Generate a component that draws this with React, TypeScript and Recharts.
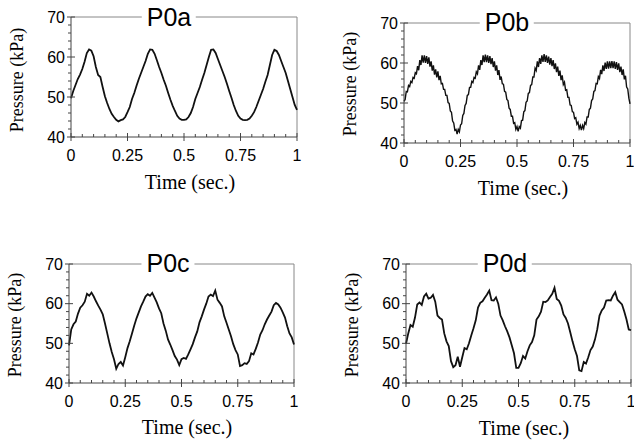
import React from "react";
import { LineChart, Line, XAxis, YAxis, ReferenceLine } from "recharts";

// ---- data (kPa), sampled every STEP seconds ----
const STEP_A = 0.01;
const P0A = [
  49.7, 51.5, 53.0, 54.5, 55.6, 57.0, 58.8, 61.0, 61.9, 61.6,
  60.2, 57.5, 55.5, 55.0, 52.5, 50.2, 48.5, 47.0, 45.8, 45.0,
  44.3, 43.9, 44.2, 44.4, 45.0, 46.2, 47.5, 49.5, 51.0, 52.8,
  54.5, 56.0, 57.5, 59.0, 60.8, 61.9, 61.8, 60.8, 59.2, 57.5,
  56.0, 54.3, 52.8, 51.0, 49.3, 47.8, 46.5, 45.3, 44.6, 44.3,
  44.3, 44.4, 45.0, 46.0, 47.5, 49.5, 51.0, 52.5, 54.3, 56.0,
  58.0, 60.0, 61.8, 61.9, 61.0, 59.5, 58.0, 56.5, 55.0, 53.3,
  51.5, 49.8, 48.0, 46.5, 45.3, 44.6, 44.3, 44.2, 44.3, 44.6,
  45.3, 46.2, 47.5, 49.0, 50.5, 52.0, 53.8, 55.5, 58.0, 60.5,
  61.8, 61.5, 60.5, 59.0, 57.5, 56.0, 54.0, 52.0, 50.0, 48.0,
  46.8,
];

const STEP_B = 0.005;
const P0B = [
  50.4, 50.9, 52.9, 52.8, 54.4, 54.1, 55.4, 55.1, 56.4, 56.2,
  57.6, 57.3, 59.2, 58.2, 60.7, 59.5, 61.9, 60.1, 61.9, 60.0,
  61.7, 59.8, 61.4, 59.1, 60.4, 58.1, 59.4, 57.1, 58.4, 56.4,
  57.9, 55.7, 56.8, 54.8, 54.9, 53.4, 53.4, 51.9, 51.9, 50.1,
  49.9, 48.0, 47.7, 45.5, 45.0, 43.2, 43.4, 42.2, 43.4, 42.8,
  44.5, 44.8, 46.9, 47.4, 49.4, 49.9, 51.9, 52.1, 53.9, 53.9,
  55.4, 55.1, 56.4, 56.2, 57.8, 57.3, 59.4, 58.3, 60.7, 59.5,
  61.9, 60.2, 62.1, 60.2, 61.9, 60.0, 61.7, 59.7, 61.2, 59.0,
  60.4, 58.1, 59.4, 57.0, 58.2, 55.8, 56.6, 54.8, 54.7, 52.9,
  52.7, 50.9, 50.6, 48.7, 48.4, 46.7, 46.7, 44.9, 45.1, 43.4,
  44.1, 42.9, 44.1, 43.7, 45.6, 45.7, 47.8, 48.1, 50.2, 50.5,
  52.4, 52.6, 54.4, 54.6, 56.5, 56.5, 58.7, 58.1, 60.4, 59.0,
  61.2, 59.8, 61.9, 60.3, 62.2, 60.3, 61.9, 60.0, 61.6, 59.6,
  61.2, 59.2, 60.7, 58.5, 59.9, 57.7, 59.1, 56.8, 58.1, 55.7,
  56.9, 54.6, 55.2, 53.2, 53.3, 51.4, 51.4, 49.5, 49.4, 47.8,
  47.7, 46.1, 46.3, 44.7, 45.2, 43.6, 44.4, 43.2, 44.4, 43.6,
  45.1, 44.7, 46.5, 46.5, 48.4, 48.7, 50.6, 51.0, 52.9, 53.1,
  54.9, 54.8, 56.6, 56.1, 58.3, 57.2, 59.4, 58.0, 60.1, 58.5,
  60.4, 58.6, 60.4, 58.7, 60.5, 58.7, 60.4, 58.5, 60.2, 58.3,
  59.9, 57.7, 59.1, 57.0, 58.4, 55.9, 56.8, 54.0, 53.5, 51.2,
  49.8,
];

const STEP_C = 0.01;
const P0C = [
  49.5, 53.5, 54.8, 55.5, 57.5, 59.0, 59.6, 60.5, 62.5, 62.0,
  62.8, 61.8, 60.6, 59.5, 58.5, 57.3, 55.0, 52.5, 50.0, 47.8,
  46.0, 43.6, 44.8, 45.3, 44.4, 46.5, 48.8, 50.5, 52.5, 54.5,
  56.3, 57.8, 59.3, 60.5, 61.8, 62.4, 62.0, 62.7, 61.5, 60.3,
  58.8, 57.6, 55.0, 53.2, 51.0, 49.7, 48.3, 46.8, 45.9, 44.5,
  46.0, 46.3, 46.1, 47.2, 48.5, 49.8, 51.5, 53.0, 55.3, 56.8,
  58.5, 60.0, 61.8, 62.3, 61.9, 63.3, 61.0, 60.2, 59.3, 56.8,
  55.2, 53.5, 51.8, 49.8, 48.3, 47.2, 44.3, 44.5, 45.0, 44.8,
  45.5, 47.5, 47.2, 48.6, 50.2, 52.2, 53.3, 54.8, 56.0, 57.0,
  58.0, 59.6, 60.2, 59.8, 59.0, 57.8, 56.5, 54.3, 52.5, 51.5,
  49.7,
];

const STEP_D = 0.01;
const P0D = [
  49.9, 52.5, 54.6, 54.2, 56.5, 59.8, 60.3, 59.7, 61.8, 62.5,
  61.3, 61.5, 62.2, 60.5, 57.0, 56.4, 56.0, 52.5, 50.5, 49.3,
  45.5, 44.0, 44.5, 46.6, 44.1, 46.5, 48.8, 48.5, 50.0, 52.0,
  53.8, 55.8, 59.0, 60.2, 60.6, 61.5, 62.3, 63.3, 60.9, 60.8,
  61.6, 60.0, 57.0, 55.8, 54.3, 53.0, 51.5, 49.5, 47.5, 43.8,
  43.8, 45.0, 46.8, 46.2, 48.0, 49.5, 50.3, 52.0, 56.0, 56.8,
  58.0, 60.5, 60.4, 60.8, 61.7, 62.5, 64.0, 61.2, 60.7, 59.5,
  57.3, 56.4, 55.0, 52.8, 50.5, 48.5, 46.8, 43.2, 43.0, 45.3,
  44.9, 46.5, 48.3, 49.2, 51.0, 53.5, 57.0, 58.3, 59.0, 60.8,
  60.9, 60.8, 62.0, 62.9, 61.0, 60.4, 59.8, 58.0, 56.0, 53.5,
  53.3,
];

const TITLES = ["P0a", "P0b", "P0c", "P0d"];
const X_TITLE = "Time (sec.)";
const Y_TITLE = "Pressure (kPa)";
const X_TICKS = [0, 0.05, 0.1, 0.15, 0.2, 0.25, 0.3, 0.35, 0.4, 0.45, 0.5, 0.55, 0.6, 0.65, 0.7, 0.75, 0.8, 0.85, 0.9, 0.95, 1];
const X_MAJOR = [0, 0.25, 0.5, 0.75, 1];
const Y_TICKS = [40, 42, 44, 46, 48, 50, 52, 54, 56, 58, 60, 62, 64, 66, 68, 70];
const Y_MAJOR = [40, 50, 60, 70];

const toRows = (values: number[], step: number) =>
  values.map((p, i) => ({ t: Math.round(i * step * 1000) / 1000, p }));

const SANS = "'Liberation Sans', Arial, sans-serif";
const SERIF = "'Liberation Serif', 'Times New Roman', serif";
const AXIS = "#444";
const Y_AXIS_W = 30;
const X_AXIS_H = 30;

const XTick = (props: any) => {
  const { x, y, payload } = props;
  const v = payload.value;
  const major = X_MAJOR.some((m) => Math.abs(m - v) < 1e-6);
  return (
    <g>
      <line x1={x} x2={x} y1={y - (major ? 4 : 3)} y2={major ? y + 4 : y} stroke={AXIS} strokeWidth={1} />
      {major && (
        <text x={x} y={y + 18} textAnchor="middle" dominantBaseline="central" fontSize={16} fontFamily={SANS} fill="#000">
          {String(v)}
        </text>
      )}
    </g>
  );
};

const YTick = (props: any) => {
  const { x, y, payload } = props;
  const v = payload.value;
  const major = Y_MAJOR.includes(v);
  return (
    <g>
      <line x1={x - (major ? 4 : 3)} x2={major ? x + 4 : x} y1={y} y2={y} stroke={AXIS} strokeWidth={1} />
      {major && (
        <text x={x - 6} y={y} textAnchor="end" dominantBaseline="central" fontSize={16} fontFamily={SANS} fill="#000">
          {String(v)}
        </text>
      )}
    </g>
  );
};

type PanelProps = {
  values: number[];
  step: number;
  title: string;
  left: number;
  top: number;
  plot: { top: number; left: number; right: number; bottom: number };
  titlePos: [number, number];
  yLabelPos: [number, number];
  xLabelPos: [number, number];
  strokeWidth: number;
};

const Panel = ({ values, step, title, left, top, plot, titlePos, yLabelPos, xLabelPos, strokeWidth }: PanelProps) => (
  <>
    <div style={{ position: "absolute", left, top, width: 317, height: 222 }}>
      <LineChart
        width={317}
        height={222}
        data={toRows(values, step)}
        margin={{ top: plot.top, right: plot.right, left: plot.left - Y_AXIS_W, bottom: plot.bottom - X_AXIS_H }}
      >
        <XAxis
          dataKey="t"
          type="number"
          domain={[0, 1]}
          ticks={X_TICKS}
          interval={0}
          height={X_AXIS_H}
          tickSize={0}
          tickMargin={0}
          tickLine={false}
          axisLine={{ stroke: AXIS, strokeWidth: 1 }}
          tick={(p: any) => <XTick {...p} />}
        />
        <YAxis
          type="number"
          domain={[40, 70]}
          ticks={Y_TICKS}
          interval={0}
          width={Y_AXIS_W}
          tickSize={0}
          tickMargin={0}
          tickLine={false}
          axisLine={{ stroke: AXIS, strokeWidth: 1 }}
          tick={(p: any) => <YTick {...p} />}
        />
        <ReferenceLine y={70} stroke="#888" strokeWidth={1} />
        <ReferenceLine x={1} stroke="#888" strokeWidth={1} />
        <Line
          type="linear"
          dataKey="p"
          stroke="#111"
          strokeWidth={strokeWidth}
          dot={false}
          isAnimationActive={false}
        />
      </LineChart>
    </div>
    <div
      style={{
        position: "absolute",
        left: titlePos[0],
        top: titlePos[1],
        transform: "translate(-50%, -50%)",
        background: "#fff",
        padding: "0 5px",
        fontFamily: SANS,
        fontSize: 25,
        lineHeight: "26px",
        color: "#000",
        whiteSpace: "nowrap",
      }}
    >
      {title}
    </div>
    <div
      style={{
        position: "absolute",
        left: yLabelPos[0],
        top: yLabelPos[1],
        transform: "translate(-50%, -50%) rotate(-90deg)",
        fontFamily: SERIF,
        fontSize: 18,
        lineHeight: "20px",
        color: "#000",
        whiteSpace: "nowrap",
      }}
    >
      {Y_TITLE}
    </div>
    <div
      style={{
        position: "absolute",
        left: xLabelPos[0],
        top: xLabelPos[1],
        transform: "translate(-50%, -50%)",
        fontFamily: SERIF,
        fontSize: 20,
        lineHeight: "22px",
        color: "#000",
        whiteSpace: "nowrap",
      }}
    >
      {X_TITLE}
    </div>
  </>
);

export default function App() {
  return (
    <div style={{ position: "absolute", left: 0, top: 0, width: 634, height: 444, background: "#fff", overflow: "hidden" }}>
      <Panel
        values={P0A}
        step={STEP_A}
        title={TITLES[0]}
        left={0}
        top={0}
        plot={{ top: 17, left: 71, right: 20, bottom: 85 }}
        titlePos={[169, 17]}
        yLabelPos={[17, 80]}
        xLabelPos={[190, 182]}
        strokeWidth={1.8}
      />
      <Panel
        values={P0B}
        step={STEP_B}
        title={TITLES[1]}
        left={317}
        top={0}
        plot={{ top: 23, left: 87, right: 4, bottom: 79 }}
        titlePos={[507, 22]}
        yLabelPos={[350, 84]}
        xLabelPos={[523, 188]}
        strokeWidth={1.4}
      />
      <Panel
        values={P0C}
        step={STEP_C}
        title={TITLES[2]}
        left={0}
        top={222}
        plot={{ top: 42, left: 69, right: 23, bottom: 61 }}
        titlePos={[168, 263]}
        yLabelPos={[15, 325]}
        xLabelPos={[187, 427]}
        strokeWidth={1.8}
      />
      <Panel
        values={P0D}
        step={STEP_D}
        title={TITLES[3]}
        left={317}
        top={222}
        plot={{ top: 42, left: 89, right: 3, bottom: 61 }}
        titlePos={[505, 263]}
        yLabelPos={[352, 325]}
        xLabelPos={[524, 428]}
        strokeWidth={1.8}
      />
    </div>
  );
}
